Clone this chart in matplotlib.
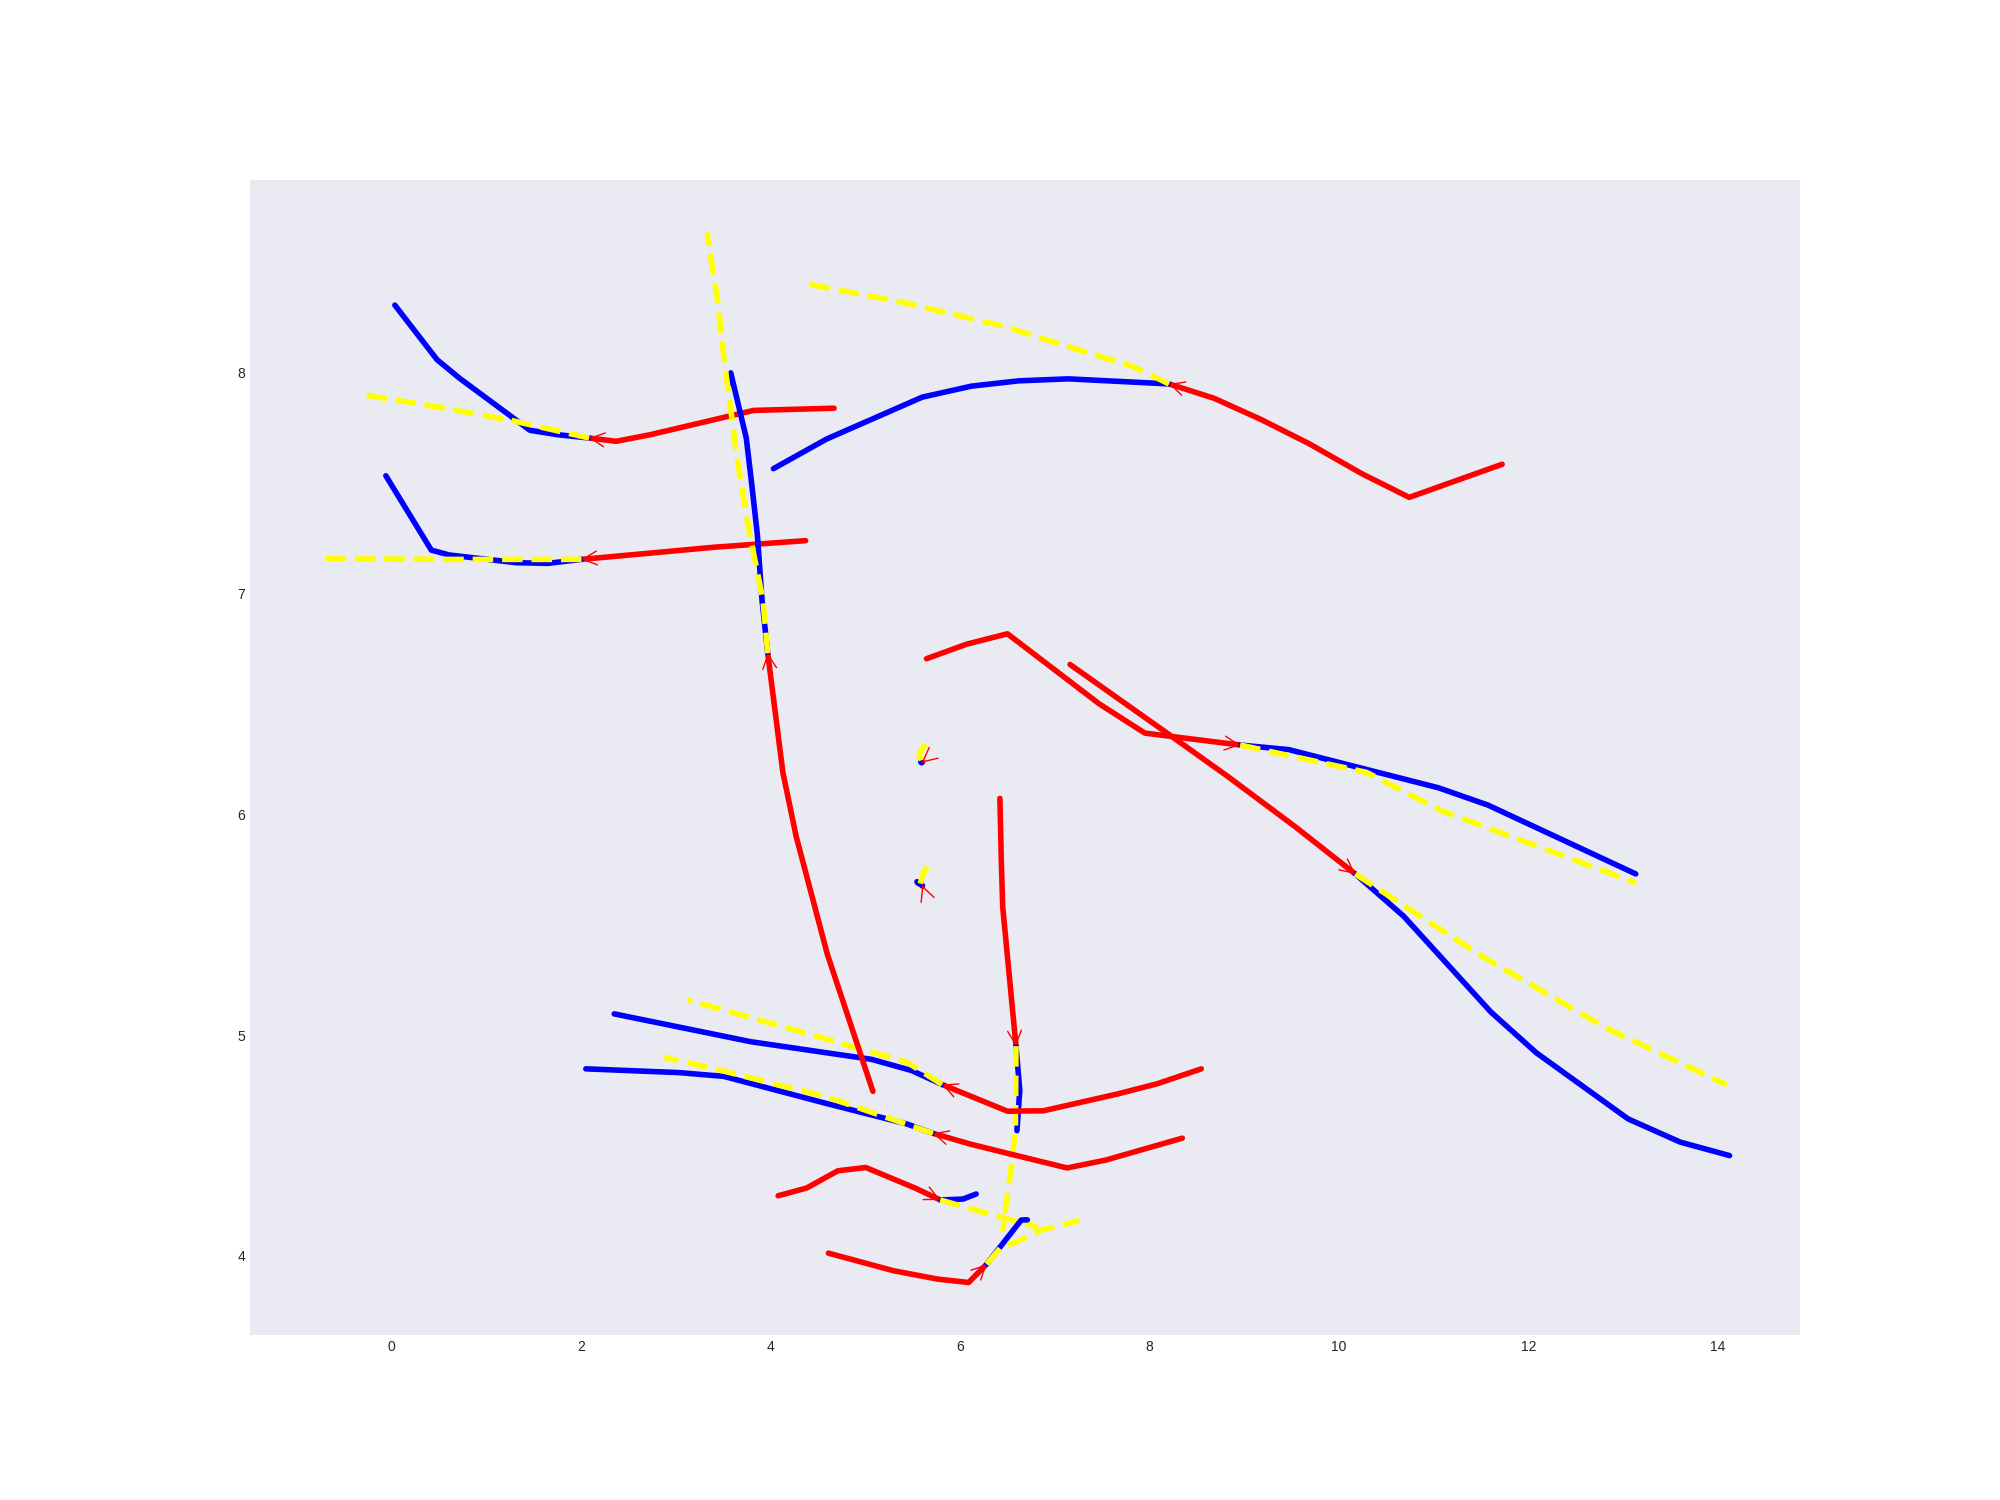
import numpy as np
import matplotlib.pyplot as plt

plt.rcParams['font.family'] = ['Liberation Sans', 'DejaVu Sans']

# each agent: observed history (red), ground truth future (blue), prediction (yellow)
# history ends where the future starts
hist_9 = [(6.42, 6.072), (6.435, 5.79), (6.45, 5.58), (6.59, 4.95)]
gt_9 = [(6.59, 4.95), (6.63, 4.75), (6.60, 4.567)]
pred_9 = [(6.59, 4.95), (6.584, 4.58), (6.55, 4.43), (6.50, 4.28), (6.45, 4.11)]

hist_10 = [(8.545, 4.847), (8.085, 4.78), (7.66, 4.733), (6.88, 4.657), (6.50, 4.655), (5.81, 4.776)]
gt_10 = [(5.81, 4.776), (5.49, 4.839), (5.065, 4.89), (3.79, 4.97), (2.35, 5.096)]
pred_10 = [(5.81, 4.776), (5.44, 4.877), (4.40, 5.005), (3.12, 5.16)]

hist_11 = [(8.345, 4.533), (7.54, 4.434), (7.13, 4.398), (6.53, 4.461), (6.10, 4.507), (5.714, 4.555)]
gt_11 = [(5.714, 4.555), (5.44, 4.597), (4.59, 4.69), (3.505, 4.813), (3.03, 4.83), (2.05, 4.847)]
pred_11 = [(5.714, 4.555), (4.59, 4.72), (3.41, 4.847), (2.87, 4.90)]

hist_12 = [(4.08, 4.272), (4.38, 4.307), (4.71, 4.385), (5.005, 4.40), (5.535, 4.305), (5.79, 4.253)]
gt_12 = [(5.79, 4.253), (6.03, 4.257), (6.17, 4.28)]
pred_12 = [(5.79, 4.253), (6.30, 4.19), (6.82, 4.13)]

hist_13 = [(4.61, 4.012), (5.30, 3.932), (5.77, 3.894), (6.09, 3.879), (6.28, 3.962)]
gt_13 = [(6.28, 3.962), (6.645, 4.162), (6.71, 4.163)]
pred_13 = [(6.28, 3.962), (6.43, 4.038), (6.58, 4.06), (6.86, 4.117), (7.26, 4.159)]

hist_1 = [(4.67, 7.84), (4.25, 7.835), (3.82, 7.83), (2.73, 7.72), (2.37, 7.69), (2.085, 7.705)]
gt_1 = [(2.085, 7.705), (1.75, 7.72), (1.46, 7.74), (0.72, 7.975), (0.48, 8.06), (0.035, 8.307)]
pred_1 = [(2.085, 7.705), (1.27, 7.784), (0.5, 7.845), (-0.29, 7.90)]

hist_2 = [(4.37, 7.24), (3.40, 7.21), (2.005, 7.155)]
gt_2 = [(2.005, 7.155), (1.65, 7.137), (1.32, 7.14), (0.61, 7.175), (0.42, 7.197), (-0.06, 7.534)]
pred_2 = [(2.005, 7.155), (0.6, 7.155), (-0.75, 7.158)]

hist_3 = [(5.08, 4.745), (4.60, 5.365), (4.27, 5.90), (4.13, 6.19), (3.97, 6.73)]
gt_3 = [(3.97, 6.73), (3.91, 6.97), (3.86, 7.27), (3.80, 7.50), (3.744, 7.704), (3.58, 8.0), (3.55, 7.945)]
pred_3 = [(3.97, 6.73), (3.92, 6.97), (3.78, 7.27), (3.66, 7.575), (3.51, 8.06), (3.44, 8.33), (3.33, 8.636)]

hist_4 = [(11.72, 7.586), (10.74, 7.436), (10.245, 7.542), (9.68, 7.68), (9.17, 7.79), (8.68, 7.885), (8.205, 7.95)]
gt_4 = [(8.205, 7.95), (7.14, 7.973), (6.62, 7.964), (6.12, 7.94), (5.60, 7.89), (4.59, 7.70), (4.03, 7.566)]
pred_4 = [(8.205, 7.95), (7.82, 8.03), (7.28, 8.10), (6.47, 8.21), (5.39, 8.32), (4.40, 8.402)]

hist_5 = [(5.645, 6.705), (6.07, 6.771), (6.50, 6.818), (7.47, 6.50), (7.95, 6.368), (8.955, 6.314)]
gt_5 = [(8.955, 6.314), (9.47, 6.293), (11.05, 6.12), (11.57, 6.042), (13.13, 5.73)]
pred_5 = [(8.955, 6.314), (10.29, 6.19), (11.08, 6.016), (13.13, 5.69)]

hist_6 = [(7.16, 6.679), (8.23, 6.354), (8.83, 6.17), (9.53, 5.946), (10.17, 5.73)]
gt_6 = [(10.17, 5.73), (10.68, 5.539), (11.60, 5.105), (12.08, 4.92), (13.05, 4.62), (13.60, 4.515), (14.12, 4.454)]
pred_6 = [(10.17, 5.73), (11.51, 5.356), (12.84, 5.027), (14.09, 4.775)]

# two agents that barely moved
hist_7 = [(5.604, 6.2372), (5.595, 6.234)]
gt_7 = [(5.595, 6.234), (5.585, 6.237)]
pred_7 = [(5.594, 6.245), (5.566, 6.275), (5.637, 6.317)]

hist_8 = [(5.6035, 5.674), (5.60, 5.678)]
gt_8 = [(5.60, 5.678), (5.55, 5.69), (5.545, 5.695)]
pred_8 = [(5.58, 5.686), (5.61, 5.731), (5.655, 5.761)]

agents = [
    (hist_9, gt_9, pred_9), (hist_10, gt_10, pred_10), (hist_11, gt_11, pred_11),
    (hist_12, gt_12, pred_12), (hist_13, gt_13, pred_13), (hist_1, gt_1, pred_1),
    (hist_2, gt_2, pred_2), (hist_3, gt_3, pred_3), (hist_4, gt_4, pred_4),
    (hist_5, gt_5, pred_5), (hist_6, gt_6, pred_6), (hist_7, gt_7, pred_7),
    (hist_8, gt_8, pred_8),
]

fig, ax = plt.subplots(figsize=(20, 15), dpi=100)
ax.set_facecolor('#EAEAF2')
for s in ax.spines.values():
    s.set_visible(False)
ax.tick_params(length=0, colors='.15', labelsize=10)

for hist, gt, pred in agents:
    h = np.array(hist)
    g = np.array(gt)
    p = np.array(pred)
    ax.plot(h[:, 0], h[:, 1], color='red', lw=4, solid_capstyle='round')
    ax.plot(g[:, 0], g[:, 1], color='blue', lw=4, solid_capstyle='round')
    ax.plot(p[:, 0], p[:, 1], color='yellow', lw=4, linestyle='--')
    ax.annotate('', xy=h[-1], xytext=h[-2],
                arrowprops=dict(arrowstyle='->', color='red', lw=1,
                                mutation_scale=25, shrinkA=0, shrinkB=0))

plt.savefig('out.png')
